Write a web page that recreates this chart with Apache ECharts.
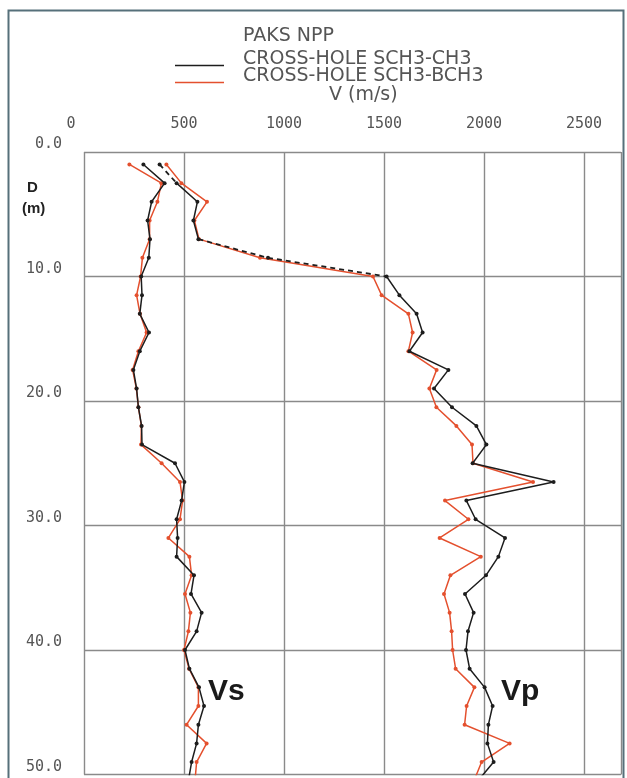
<!DOCTYPE html>
<html>
<head>
<meta charset="utf-8">
<script src="https://cdn.jsdelivr.net/npm/echarts@6/dist/echarts.min.js"></script>
<style>
html,body{margin:0;padding:0;background:#fff;}
#chart{width:627px;height:778px;}
</style>
</head>
<body>
<div id="chart"></div>
<script>
// ---- data ----
const depth = [1, 2.5, 4, 5.5, 7, 8.5, 10, 11.5, 13, 14.5, 16, 17.5, 19, 20.5, 22, 23.5, 25, 26.5, 28, 29.5, 31, 32.5, 34, 35.5, 37, 38.5, 40, 41.5, 43, 44.5, 46, 47.5, 49, 50.5];
const vsCH3  = [297, 403, 338, 318, 330, 324, 286, 290, 279, 325, 279, 247, 263, 272, 288, 290, 455, 502, 488, 463, 468, 463, 550, 535, 588, 563, 505, 527, 575, 600, 572, 563, 538, 522];
const vsBCH3 = [227, 387, 367, 328, 328, 292, 283, 263, 280, 313, 272, 243, 262, 272, 287, 285, 388, 480, 493, 480, 422, 527, 538, 505, 532, 522, 500, 525, 572, 572, 513, 613, 563, 555];
const vpCH3  = [378, 463, 567, 547, 572, 920, 1513, 1577, 1663, 1693, 1627, 1822, 1750, 1840, 1962, 2012, 1943, 2348, 1912, 1958, 2105, 2072, 2010, 1905, 1948, 1920, 1910, 1928, 2003, 2043, 2022, 2017, 2048, 1970];
const vpBCH3 = [412, 487, 615, 552, 575, 880, 1445, 1488, 1622, 1643, 1622, 1763, 1727, 1762, 1862, 1940, 1945, 2245, 1805, 1922, 1778, 1984, 1832, 1800, 1828, 1838, 1843, 1858, 1952, 1913, 1903, 2128, 1988, 1950];
const xTicks = [0, 500, 1000, 1500, 2000, 2500];
const yTicks = [0, 10, 20, 30, 40, 50];
const nameCH3 = 'CROSS-HOLE SCH3-CH3';
const nameBCH3 = 'CROSS-HOLE SCH3-BCH3';
// segments (start index) of the black Vp curve drawn dashed
const vpCH3DashedSegs = [0, 4, 5];

// ---- helpers ----
function pairs(vals) { return vals.map((v, i) => [v, depth[i]]); }
function solidPart(vals, segs) {
  const out = [];
  vals.forEach((v, i) => { out.push([v, depth[i]]); if (segs.includes(i)) out.push('-'); });
  return out;
}
function dashedPart(vals, segs) {
  const out = [];
  segs.forEach(i => { out.push([vals[i], depth[i]], [vals[i + 1], depth[i + 1]], '-'); });
  return out;
}

const BLACK = '#1d1d1d';
const RED = '#e4502e';
const GRIDC = '#8a8a8a';
const TXT = '#555';
const FONT = 'DejaVu Sans';
const MONO = 'DejaVu Sans Mono';

function lineSeries(name, data, color, extra) {
  return Object.assign({
    type: 'line', name: name, data: data,
    color: color,
    symbol: 'circle', symbolSize: 4, showSymbol: true,
    lineStyle: { color: color, width: 1.5 },
    itemStyle: { color: color },
    emphasis: { disabled: true },
    animation: false, clip: true, z: 3
  }, extra || {});
}

const chart = echarts.init(document.getElementById('chart'), null, { renderer: 'canvas' });
const option = {
  backgroundColor: '#fff',
  animation: false,
  grid: { left: 84, top: 152, width: 537, height: 622.5 },
  legend: {
    left: 170, top: 45, orient: 'vertical', itemGap: -2,
    itemWidth: 49, itemHeight: 13.5,
    icon: 'path://M0,0 M0,12 L49,12 L49,13.5 L0,13.5 Z',
    data: [nameCH3, nameBCH3],
    selectedMode: false,
    textStyle: { fontFamily: FONT, fontSize: 19, color: TXT, lineHeight: 18, padding: [0, 0, 0, 14] }
  },
  xAxis: {
    type: 'value', position: 'top', min: 0, max: 2685, interval: 500,
    axisLine: { show: false }, axisTick: { show: false },
    splitLine: { show: true, lineStyle: { color: GRIDC, width: 1.4 } },
    axisLabel: {
      margin: 20, showMaxLabel: false,
      fontFamily: MONO, fontSize: 15, color: TXT,
      formatter: v => xTicks.includes(v) ? (v === 0 ? '{z|0}' : String(v)) : '',
      rich: { z: { fontFamily: MONO, fontSize: 15, color: TXT, padding: [0, 26, 0, 0] } }
    }
  },
  yAxis: {
    type: 'value', inverse: true, min: 0, max: 50, interval: 10,
    axisLine: { show: false }, axisTick: { show: false },
    splitLine: { show: true, lineStyle: { color: GRIDC, width: 1.4 } },
    axisLabel: {
      margin: 22, fontFamily: MONO, fontSize: 15, color: TXT,
      verticalAlign: 'bottom',
      formatter: v => yTicks.includes(v) ? v.toFixed(1) : ''
    }
  },
  series: [
    lineSeries(nameBCH3, pairs(vsBCH3), RED),
    lineSeries(nameBCH3, pairs(vpBCH3), RED),
    lineSeries(nameCH3, pairs(vsCH3), BLACK, { z: 4 }),
    lineSeries(nameCH3, solidPart(vpCH3, vpCH3DashedSegs), BLACK, { z: 4 }),
    lineSeries(nameCH3, dashedPart(vpCH3, vpCH3DashedSegs), BLACK, {
      z: 5, showSymbol: false, symbol: 'none',
      lineStyle: { color: BLACK, width: 1.8, type: [5, 4] }
    })
  ],
  graphic: [
    { type: 'rect', left: 6, top: 8, z: 100, silent: true,
      shape: { width: 615, height: 790 },
      style: { fill: null, stroke: '#56707a', lineWidth: 2 } },
    { type: 'text', left: 243, top: 27, silent: true,
      style: { text: 'PAKS NPP', fontFamily: FONT, fontSize: 19, fill: TXT } },
    { type: 'text', left: 329, top: 86, silent: true,
      style: { text: 'V (m/s)', fontFamily: FONT, fontSize: 19, fill: TXT } },
    { type: 'text', left: 27, top: 180, silent: true,
      style: { text: 'D', fontFamily: 'Liberation Sans', fontWeight: 'bold', fontSize: 15, fill: '#222' } },
    { type: 'text', left: 22, top: 201, silent: true,
      style: { text: '(m)', fontFamily: 'Liberation Sans', fontWeight: 'bold', fontSize: 15, fill: '#222' } },
    { type: 'text', left: 208, top: 677, silent: true,
      style: { text: 'Vs', fontFamily: 'Liberation Sans', fontWeight: 'bold', fontSize: 30, fill: '#1a1a1a' } },
    { type: 'text', left: 501, top: 677, silent: true,
      style: { text: 'Vp', fontFamily: 'Liberation Sans', fontWeight: 'bold', fontSize: 30, fill: '#1a1a1a' } }
  ]
};
chart.setOption(option);
</script>
</body>
</html>
